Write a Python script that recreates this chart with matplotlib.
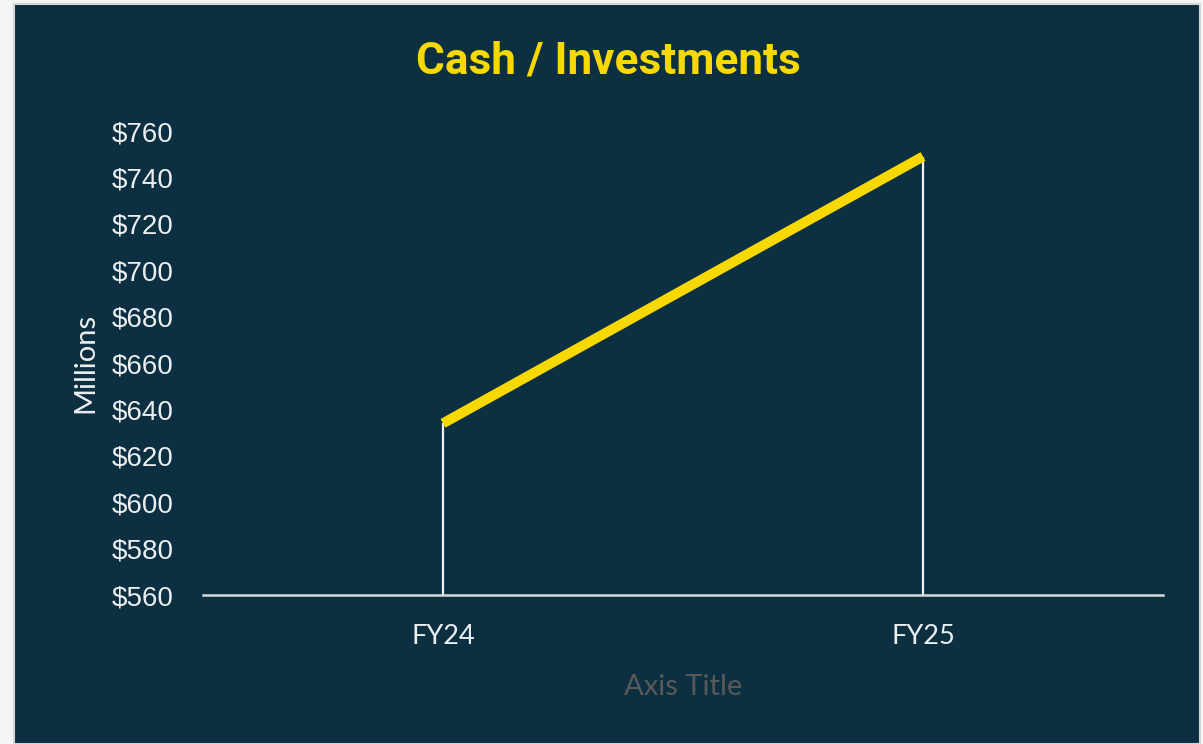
import matplotlib.pyplot as plt
from matplotlib.patches import Rectangle
from matplotlib.ticker import FuncFormatter

# данные
categories = ['FY24', 'FY25']
values = [634, 749]
y_ticks = list(range(560, 761, 20))

bg = '#0c2f42'
yellow = '#f7d800'
txt = '#eceff0'

fig = plt.figure(figsize=(12.03, 7.44), dpi=100)
fig.patch.set_facecolor('#f4f6f6')
# тёмная панель диаграммы
fig.patches.append(Rectangle((14 / 1203, 0), 1186 / 1203, 1 - 4 / 744,
                             transform=fig.transFigure, facecolor=bg,
                             edgecolor='#d4d6d6', linewidth=1.5, zorder=-5))

ax = fig.add_axes([203 / 1203, 1 - 595 / 744, 960 / 1203, 464 / 744])
ax.set_zorder(2)
ax.patch.set_alpha(0)

x = list(range(len(categories)))
# вертикальные линии от точек до оси
ax.vlines(x, 560, values, color='#f2f2f2', linewidth=1.6, zorder=2)
ax.plot(x, values, color=yellow, linewidth=7.2, solid_capstyle='butt', zorder=3)

ax.set_xlim(-0.5, len(categories) - 0.5)
ax.set_ylim(560, 760)
ax.set_yticks(y_ticks)
ax.yaxis.set_major_formatter(FuncFormatter(lambda v, p: f'${v:.0f}'))
ax.set_xticks(x)
ax.set_xticklabels(categories)

for s in ['top', 'right', 'left']:
    ax.spines[s].set_visible(False)
ax.spines['bottom'].set_color('#d9d9d9')
ax.spines['bottom'].set_linewidth(1.8)

ax.tick_params(axis='y', length=0, pad=21, labelsize=20, labelcolor=txt)
ax.tick_params(axis='x', length=0, pad=21, labelsize=19.5, labelcolor=txt)
for lab in ax.get_yticklabels():
    lab.set_fontfamily('Liberation Sans')
for lab in ax.get_xticklabels():
    lab.set_fontfamily('Lato')

ax.set_ylabel('Millions', color=txt, fontsize=21, family='Lato', labelpad=10)
ax.set_xlabel('Axis Title', color='#595959', fontsize=21, family='Lato', labelpad=18)

fig.text(608 / 1203, 1 - 61 / 744, 'Cash / Investments', color=yellow,
         fontsize=31.8, fontweight='bold', family='Roboto', ha='center', va='center')

fig.savefig('out.png', dpi=100, facecolor=fig.get_facecolor())
